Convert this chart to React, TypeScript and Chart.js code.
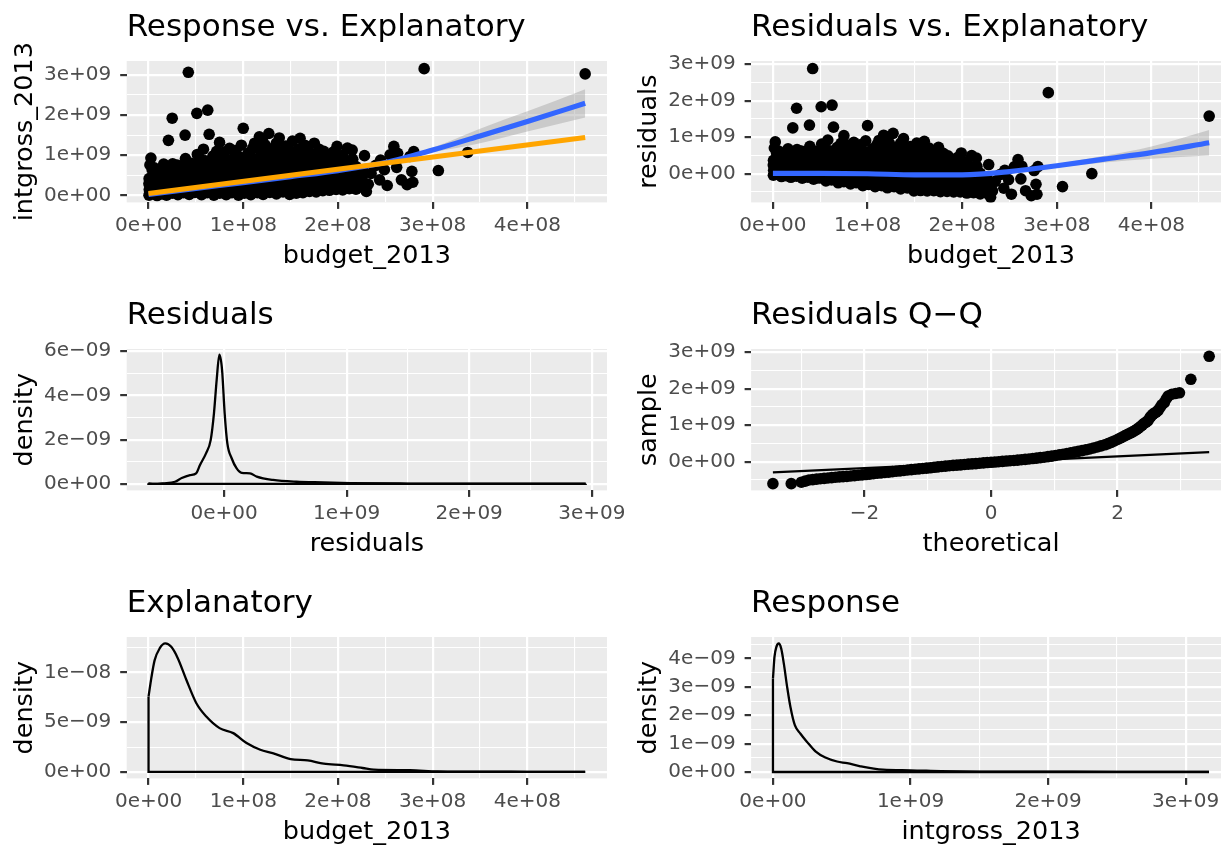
import React, { useEffect, useRef } from 'react';
import { Chart, registerables } from 'chart.js';

Chart.register(...registerables);

const FONT = "'DejaVu Sans', 'Liberation Sans', sans-serif";
const M = 1e6;
const NANO = 1e-9;

// ---------------- data (budget / gross in $ millions) ----------------
// budget_2013 vs intgross_2013: [budget $M, gross $M]
const movies: [number, number][] = [
  [0.5, 10], [0.8, 150], [0.4, 290], [0.6, 420],
  [4, 60], [3.5, 200], [4.2, 340], [4, 470], [3.8, 640],
  [9, 0], [8.6, 130], [9.2, 270], [9, 400], [8.8, 520], [9.1, 640],
  [14, 40], [13.5, 180], [14.3, 320], [14, 450], [14.2, 590],
  [19, 10], [19.4, 150], [18.7, 290], [19, 430], [19.2, 540], [18.9, 680],
  [25, 60], [24.6, 200], [25.3, 340], [25, 480], [24.8, 610], [25.1, 740],
  [31, 20], [31.4, 160], [30.7, 300], [31, 440], [31.2, 560], [30.9, 690],
  [37, 70], [36.6, 210], [37.4, 350], [37, 490], [36.8, 640], [37.1, 760],
  [43, 30], [43.3, 170], [42.8, 310], [43, 450], [43.2, 580], [42.9, 700],
  [49, 80], [48.7, 220], [49.3, 360], [49, 500], [48.8, 620], [49.1, 760],
  [56, 20], [56.3, 160], [55.7, 300], [56, 440], [56.2, 580], [55.8, 680],
  [62, 70], [62.4, 210], [61.7, 350], [62, 490], [62.2, 620], [61.9, 760],
  [69, 10], [68.6, 150], [69.3, 290], [69, 430], [68.8, 570], [69.2, 700], [69, 830],
  [75, 60], [75.4, 200], [74.7, 340], [75, 480], [75.2, 620], [74.9, 760],
  [82, 20], [81.6, 160], [82.3, 300], [82, 440], [81.8, 580], [82.2, 720], [82, 850],
  [88, 70], [88.4, 210], [87.7, 350], [88, 490], [88.2, 630], [87.8, 760], [88.1, 900],
  [95, 10], [94.6, 150], [95.3, 290], [95, 430], [94.8, 570], [95.2, 700], [95, 840],
  [101, 60], [101.4, 200], [100.7, 340], [101, 480], [101.2, 620], [100.8, 780], [101.1, 920],
  [108, 20], [107.6, 160], [108.3, 300], [108, 440], [107.8, 580], [108.2, 720], [108, 840], [107.9, 980],
  [115, 70], [115.4, 210], [114.7, 350], [115, 490], [115.2, 630], [114.8, 770], [115.1, 910],
  [121, 30], [120.6, 170], [121.3, 310], [121, 450], [120.8, 590], [121.2, 730], [121, 880], [120.9, 1010],
  [128, 80], [128.4, 220], [127.7, 360], [128, 500], [128.2, 640], [127.8, 780], [128.1, 920],
  [135, 40], [134.6, 180], [135.3, 320], [135, 460], [134.8, 600], [135.2, 740], [135, 900], [134.9, 1040],
  [142, 90], [142.4, 230], [141.7, 370], [142, 510], [142.2, 650], [141.8, 790], [142.1, 930],
  [149, 30], [148.6, 170], [149.3, 310], [149, 450], [148.8, 590], [149.2, 730], [149, 880], [148.9, 1020],
  [156, 60], [156.4, 200], [155.7, 340], [156, 480], [156.2, 620], [155.8, 760], [156, 920], [156.1, 1060],
  [163, 70], [162.6, 210], [163.3, 350], [163, 490], [162.8, 630], [163.2, 770], [163, 880], [162.9, 1010],
  [170, 100], [170.4, 240], [169.7, 380], [170, 520], [170.2, 660], [169.8, 800], [170.1, 940],
  [177, 90], [176.6, 230], [177.3, 370], [177, 510], [176.8, 650], [177.2, 790], [177, 900], [176.9, 1030],
  [184, 120], [184.4, 260], [183.7, 400], [184, 540], [184.2, 680], [183.8, 820], [184.1, 960],
  [191, 130], [190.6, 270], [191.3, 410], [191, 550], [190.8, 690], [191.2, 800], [191, 930],
  [198, 150], [198.4, 290], [197.7, 430], [198, 570], [198.2, 710], [197.8, 840], [198.1, 960],
  [205, 140], [204.6, 280], [205.3, 420], [205, 560], [204.8, 690], [205.1, 830],
  [212, 170], [212.4, 310], [211.7, 450], [212, 590], [212.2, 720], [211.9, 860],
  [219, 160], [218.6, 300], [219.3, 440], [219, 580], [219.1, 720],
  [226, 200], [226.4, 340], [225.7, 480], [226.1, 620],
  // sparser points above the dense core
  [2.5, 930], [1.5, 760], [6, 690], [12, 620], [16, 780], [21, 1370], [25, 1920], [25.5, 790],
  [30, 760], [38.6, 1500], [39, 920], [42, 3060], [45, 800], [51, 2040], [51.5, 1020], [60, 860],
  [62.5, 2120], [64, 1520], [75, 1320], [75.5, 1000], [85.5, 1170], [85, 880], [96, 960],
  [100, 1670], [105, 1050], [110, 1180], [117, 1460], [120, 1400], [125, 1150], [127, 1540],
  [130, 1000], [135, 1300], [140, 1080], [150, 1100], [160, 1420], [165, 1250], [170, 1050],
  [180, 1150], [190, 1000], [199, 1220], [200, 950], [215, 1130],
  [55, 900], [58, 1150], [68, 980], [72, 1100], [80, 1080], [92, 1120], [98, 1250], [112, 1300],
  [118, 1120], [123, 1260], [132, 1180], [138, 1430], [145, 1230], [152, 1350], [158, 1150],
  [168, 1180], [175, 1300], [185, 1100], [195, 1080], [205, 1000], [210, 1180],
  // right-hand tail
  [215.6, 900], [220, 350], [228, 990], [230, 100], [232, 280], [235, 550], [240, 750],
  [244, 390], [245, 880], [249, 640], [252, 250], [255, 1010], [259, 1220], [262, 700],
  [263, 1050], [267, 390], [273, 270], [276, 970], [278, 600], [279, 330], [280, 1090],
  [291, 3150], [306, 620], [337, 1070], [461, 3020],
];

// linear model (orange line) end points
const lmBudgetM = [0, 461];
const lmGrossM = [50, 1440];

// loess smooth of intgross_2013 ~ budget_2013 (blue) with its band
const smoothBudgetM = [0, 50, 100, 150, 200, 250, 300, 350, 400, 461];
const smoothGrossM = [30, 180, 320, 470, 620, 820, 1130, 1480, 1840, 2290];
const smoothGrossLoM = [10, 165, 305, 455, 600, 790, 1070, 1300, 1590, 1940];
const smoothGrossHiM = [50, 195, 335, 485, 640, 850, 1190, 1660, 2090, 2640];

// loess smooth of residuals ~ budget_2013
const residSmoothM = [10, 10, 0, -30, -30, 60, 220, 400, 580, 850];
const residSmoothLoM = [-20, -10, -15, -45, -50, 35, 170, 310, 410, 500];
const residSmoothHiM = [40, 30, 15, -15, -10, 85, 270, 490, 750, 1200];

// density of residuals (x in $M, density in 1e-9)
const residDensXM = [-617, -570, -495, -400, -345, -277, -228, -196, -147, -109, -82, -60, -38, -16, 5, 27, 63, 103, 144, 212, 267, 400, 590, 810, 1030, 1500, 2000, 2500, 2950];
const residDensY = [0.03, 0.0, 0.03, 0.1, 0.27, 0.4, 0.48, 0.86, 1.38, 1.98, 3.2, 4.7, 5.83, 5.14, 3.2, 1.83, 1.15, 0.7, 0.5, 0.48, 0.33, 0.18, 0.1, 0.07, 0.04, 0.02, 0.015, 0.01, 0.01];

// residuals Q-Q (theoretical quantile, sample in $M)
const qqTheoretical = [
  -3.45, -3.16, -3.0, -2.94, -2.88, -2.82, -2.76, -2.7, -2.64, -2.58, -2.52, -2.46, -2.4, -2.34,
  -2.28, -2.22, -2.16, -2.1, -2.04, -1.98, -1.92, -1.86, -1.8, -1.74, -1.68, -1.62, -1.56, -1.5,
  -1.44, -1.38, -1.32, -1.26, -1.2, -1.14, -1.08, -1.02, -0.96, -0.9, -0.84, -0.78, -0.72, -0.66,
  -0.6, -0.54, -0.48, -0.42, -0.36, -0.3, -0.24, -0.18, -0.12, -0.06, 0, 0.06, 0.12, 0.18, 0.24,
  0.3, 0.36, 0.42, 0.48, 0.54, 0.6, 0.66, 0.72, 0.78, 0.84, 0.9, 0.96, 1.02, 1.08, 1.14, 1.2,
  1.26, 1.32, 1.38, 1.44, 1.5, 1.56, 1.62, 1.68, 1.74, 1.8, 1.85, 1.9, 1.95, 2.0, 2.04, 2.08,
  2.12, 2.16, 2.2, 2.24, 2.27, 2.3, 2.33, 2.36, 2.39, 2.42, 2.45, 2.48, 2.51, 2.53, 2.56, 2.58,
  2.61, 2.64, 2.67, 2.7, 2.74, 2.77, 2.8, 2.86, 2.92, 2.98, 3.16, 3.45,
];
const qqSampleM = [
  -600, -600, -560, -530, -500, -490, -475, -465, -455, -445, -435, -425, -415, -408,
  -400, -390, -380, -370, -360, -350, -340, -328, -315, -305, -295, -283, -270, -260,
  -250, -238, -225, -215, -205, -195, -185, -175, -165, -152, -140, -130, -120, -110,
  -100, -92, -85, -75, -65, -58, -50, -40, -30, -22, -15, -8, 0, 10, 20,
  28, 35, 45, 55, 65, 75, 88, 100, 112, 125, 140, 155, 172, 190, 207, 225,
  245, 265, 285, 305, 327, 350, 377, 405, 435, 465, 497, 530, 570, 610, 645, 680,
  715, 750, 785, 820, 850, 880, 920, 960, 1005, 1050, 1085, 1120, 1200, 1250, 1300, 1330,
  1360, 1400, 1480, 1560, 1620, 1720, 1800, 1850, 1870, 1890, 2260, 2890,
];
const qqLineTheoretical = [-3.45, 3.45];
const qqLineSampleM = [-290, 265];

// density of budget_2013 (x in $M, density in 1e-9)
const budgetDensXM = [0, 2.9, 6.4, 11.7, 17.7, 24, 31, 40, 50.5, 61, 75, 89.4, 103.5, 118, 131, 150, 168, 185, 206, 226, 238, 276, 305, 337, 400, 461];
const budgetDensY = [7.56, 9.4, 11.2, 12.4, 12.9, 12.56, 11.4, 9.23, 6.9, 5.56, 4.4, 3.9, 2.9, 2.23, 1.9, 1.3, 1.16, 0.83, 0.66, 0.4, 0.23, 0.18, 0.05, 0.03, 0.02, 0.02];

// density of intgross_2013 (x in $M, density in 1e-9)
const grossDensXM = [0, 11, 25, 42, 60, 79, 103, 127, 159, 200, 248, 309, 381, 466, 539, 635, 800, 1000, 1220, 1500, 2000, 2500, 3170];
const grossDensY = [3.29, 4.06, 4.41, 4.53, 4.35, 3.82, 3.0, 2.29, 1.65, 1.35, 1.06, 0.73, 0.51, 0.37, 0.31, 0.2, 0.08, 0.06, 0.03, 0.015, 0.01, 0.005, 0.005];

// tick values and labels
const budgetTicks = [0, 1e8, 2e8, 3e8, 4e8];
const budgetTickLabels = ['0e+00', '1e+08', '2e+08', '3e+08', '4e+08'];
const budgetMinor = [0.5e8, 1.5e8, 2.5e8, 3.5e8, 4.5e8];
const billionTicks = [0, 1e9, 2e9, 3e9];
const billionTickLabels = ['0e+00', '1e+09', '2e+09', '3e+09'];
const billionMinor = [-0.5e9, 0.5e9, 1.5e9, 2.5e9, 3.5e9];
const residDensTicks = [0, 2e-9, 4e-9, 6e-9];
const residDensTickLabels = ['0e+00', '2e\u221209', '4e\u221209', '6e\u221209'];
const residDensMinor = [1e-9, 3e-9, 5e-9];
const qqTicks = [-2, 0, 2];
const qqTickLabels = ['\u22122', '0', '2'];
const qqMinor = [-3, -1, 1, 3];
const budgetDensTicks = [0, 5e-9, 1e-8];
const budgetDensTickLabels = ['0e+00', '5e\u221209', '1e\u221208'];
const budgetDensMinor = [2.5e-9, 7.5e-9, 12.5e-9];
const grossDensTicks = [0, 1e-9, 2e-9, 3e-9, 4e-9];
const grossDensTickLabels = ['0e+00', '1e\u221209', '2e\u221209', '3e\u221209', '4e\u221209'];
const grossDensMinor = [0.5e-9, 1.5e-9, 2.5e-9, 3.5e-9, 4.5e-9];

// ---------------- helpers ----------------
const CELL_W = 624;
const CELL_H = 288;
const X_AXIS_H = 85.6;
const TICK_FONT = 20;
const AXIS_TITLE_FONT = 25.5;
const TITLE_FONT = 31;
const POINT_R = 5.8;

type Tick = { value: number; label: string; major: boolean };

function buildTicks(major: number[], labels: string[], minor: number[], min: number, max: number): Tick[] {
  const list: Tick[] = [];
  major.forEach((v, i) => { if (v >= min && v <= max) list.push({ value: v, label: labels[i], major: true }); });
  minor.forEach((v) => { if (v >= min && v <= max) list.push({ value: v, label: '', major: false }); });
  return list.sort((a, b) => a.value - b.value);
}

function pts(xs: number[], ys: number[], sx: number, sy: number) {
  return xs.map((x, i) => ({ x: x * sx, y: ys[i] * sy }));
}

function axis(isX: boolean, min: number, max: number, ticks: Tick[], title: string, yWidth: number) {
  return {
    type: 'linear',
    position: isX ? 'bottom' : 'left',
    min,
    max,
    bounds: 'data',
    afterBuildTicks: (s: any) => { s.ticks = ticks.map((t) => ({ value: t.value })); },
    afterFit: (s: any) => {
      if (isX) { s.height = X_AXIS_H; s.paddingLeft = 0; s.paddingRight = 0; }
      else { s.width = yWidth; s.paddingTop = 0; s.paddingBottom = 0; }
    },
    ticks: {
      autoSkip: false,
      maxRotation: 0,
      minRotation: 0,
      padding: isX ? 5 : 9,
      color: '#4D4D4D',
      font: { family: FONT, size: TICK_FONT },
      callback: (_v: any, i: number) => (ticks[i] ? ticks[i].label : ''),
    },
    grid: {
      color: '#FFFFFF',
      lineWidth: (c: any) => (ticks[c.index] && ticks[c.index].major ? 2.2 : 1.1),
      drawTicks: true,
      tickLength: 6.5,
      tickWidth: 2.2,
      tickColor: (c: any) => (ticks[c.index] && ticks[c.index].major ? '#333333' : 'rgba(0,0,0,0)'),
    },
    border: { display: false },
    title: {
      display: true,
      text: title,
      color: '#000000',
      font: { family: FONT, size: AXIS_TITLE_FONT },
      padding: isX ? { top: 0, bottom: 16.5 } : { top: 10.2, bottom: 0 },
    },
  };
}

const panelBg = {
  id: 'panelBg',
  beforeDraw(chart: any) {
    const { ctx, chartArea: a } = chart;
    ctx.save();
    ctx.fillStyle = '#EBEBEB';
    ctx.fillRect(a.left, a.top, a.right - a.left, a.bottom - a.top);
    ctx.restore();
  },
};

type PanelSpec = {
  title: string;
  xTitle: string;
  yTitle: string;
  xMin: number; xMax: number; yMin: number; yMax: number;
  xTicks: Tick[]; yTicks: Tick[];
  datasets: any[];
  yWidth: number;
};

function Panel({ spec, left, top }: { spec: PanelSpec; left: number; top: number }) {
  const ref = useRef<HTMLCanvasElement | null>(null);
  useEffect(() => {
    const chart = new Chart(ref.current as HTMLCanvasElement, {
      type: 'line',
      data: { datasets: spec.datasets },
      options: {
        animation: false,
        responsive: false,
        devicePixelRatio: 1,
        events: [],
        layout: { padding: { left: 0, top: 0, right: 17, bottom: 0 } },
        plugins: {
          legend: { display: false },
          tooltip: { enabled: false },
          title: {
            display: true,
            text: spec.title,
            align: 'start',
            fullSize: false,
            color: '#000000',
            font: { family: FONT, size: TITLE_FONT, weight: 'normal', lineHeight: 1.2 },
            padding: { top: 9, bottom: 14.8 },
          },
        },
        scales: {
          x: axis(true, spec.xMin, spec.xMax, spec.xTicks, spec.xTitle, 0),
          y: axis(false, spec.yMin, spec.yMax, spec.yTicks, spec.yTitle, spec.yWidth),
        },
      } as any,
      plugins: [panelBg],
    });
    return () => chart.destroy();
  }, []);
  return (
    <canvas
      ref={ref}
      width={CELL_W}
      height={CELL_H}
      style={{ position: 'absolute', left, top, width: CELL_W, height: CELL_H }}
    />
  );
}

const pointSet = (data: any[]) => ({
  data,
  showLine: false,
  pointRadius: POINT_R,
  pointHoverRadius: POINT_R,
  pointBackgroundColor: '#000000',
  pointBorderWidth: 0,
  borderWidth: 0,
});

const lineSet = (data: any[], color: string, width: number, smooth: boolean) => ({
  data,
  borderColor: color,
  borderWidth: width,
  pointRadius: 0,
  fill: false,
  cubicInterpolationMode: smooth ? 'monotone' : 'default',
  tension: 0,
});

const bandSet = (data: any[], fillTarget: any) => ({
  data,
  borderWidth: 0,
  borderColor: 'rgba(0,0,0,0)',
  pointRadius: 0,
  fill: fillTarget,
  backgroundColor: 'rgba(153,153,153,0.4)',
  cubicInterpolationMode: 'monotone',
});

// derived series: residuals of the linear model
const slope = (lmGrossM[1] - lmGrossM[0]) / (lmBudgetM[1] - lmBudgetM[0]);
const scatterPts = movies.map(([b, g]) => ({ x: b * M, y: g * M }));
const residualPts = movies.map(([b, g]) => ({ x: b * M, y: (g - (lmGrossM[0] + slope * (b - lmBudgetM[0]))) * M }));

// panel ranges
const X_BUD = [-0.2305e8, 4.8405e8];
const Y_GROSS = [-0.17e9, 3.34e9];
const Y_RESID = [-0.785e9, 3.09e9];
const X_RESID = [-0.794e9, 3.124e9];
const X_QQ = [-3.795, 3.795];
const Y_BDENS = [-0.645e-9, 13.55e-9];
const X_GROSS = [-0.159e9, 3.33e9];
const Y_GDENS = [-0.226e-9, 4.76e-9];
const Y_RDENS = [-0.29e-9, 6.09e-9];

const panels: { spec: PanelSpec; left: number; top: number }[] = [
  {
    left: 0, top: 0,
    spec: {
      title: 'Response vs. Explanatory', xTitle: 'budget_2013', yTitle: 'intgross_2013',
      xMin: X_BUD[0], xMax: X_BUD[1], yMin: Y_GROSS[0], yMax: Y_GROSS[1],
      xTicks: buildTicks(budgetTicks, budgetTickLabels, budgetMinor, X_BUD[0], X_BUD[1]),
      yTicks: buildTicks(billionTicks, billionTickLabels, billionMinor, Y_GROSS[0], Y_GROSS[1]),
      yWidth: 126.7,
      datasets: [
        lineSet(pts(lmBudgetM, lmGrossM, M, M), '#FFA500', 5.2, false),
        lineSet(pts(smoothBudgetM, smoothGrossM, M, M), '#3366FF', 5.2, true),
        bandSet(pts(smoothBudgetM, smoothGrossHiM, M, M), '+1'),
        bandSet(pts(smoothBudgetM, smoothGrossLoM, M, M), false),
        pointSet(scatterPts),
      ],
    },
  },
  {
    left: CELL_W, top: 0,
    spec: {
      title: 'Residuals vs. Explanatory', xTitle: 'budget_2013', yTitle: 'residuals',
      xMin: X_BUD[0], xMax: X_BUD[1], yMin: Y_RESID[0], yMax: Y_RESID[1],
      xTicks: buildTicks(budgetTicks, budgetTickLabels, budgetMinor, X_BUD[0], X_BUD[1]),
      yTicks: buildTicks(billionTicks, billionTickLabels, billionMinor, Y_RESID[0], Y_RESID[1]),
      yWidth: 127.1,
      datasets: [
        lineSet(pts(smoothBudgetM, residSmoothM, M, M), '#3366FF', 5.2, true),
        bandSet(pts(smoothBudgetM, residSmoothHiM, M, M), '+1'),
        bandSet(pts(smoothBudgetM, residSmoothLoM, M, M), false),
        pointSet(residualPts),
      ],
    },
  },
  {
    left: 0, top: CELL_H,
    spec: {
      title: 'Residuals', xTitle: 'residuals', yTitle: 'density',
      xMin: X_RESID[0], xMax: X_RESID[1], yMin: Y_RDENS[0], yMax: Y_RDENS[1],
      xTicks: buildTicks(billionTicks, billionTickLabels, billionMinor, X_RESID[0], X_RESID[1]),
      yTicks: buildTicks(residDensTicks, residDensTickLabels, residDensMinor, Y_RDENS[0], Y_RDENS[1]),
      yWidth: 126.7,
      datasets: [
        lineSet(pts(residDensXM, residDensY, M, NANO), '#000000', 2.3, true),
        lineSet([
          { x: residDensXM[0] * M, y: residDensY[0] * NANO },
          { x: residDensXM[0] * M, y: 0 },
          { x: residDensXM[residDensXM.length - 1] * M, y: 0 },
          { x: residDensXM[residDensXM.length - 1] * M, y: residDensY[residDensY.length - 1] * NANO },
        ], '#000000', 2.3, false),
      ],
    },
  },
  {
    left: CELL_W, top: CELL_H,
    spec: {
      title: 'Residuals Q\u2212Q', xTitle: 'theoretical', yTitle: 'sample',
      xMin: X_QQ[0], xMax: X_QQ[1], yMin: Y_RESID[0], yMax: Y_RESID[1],
      xTicks: buildTicks(qqTicks, qqTickLabels, qqMinor, X_QQ[0], X_QQ[1]),
      yTicks: buildTicks(billionTicks, billionTickLabels, billionMinor, Y_RESID[0], Y_RESID[1]),
      yWidth: 127.1,
      datasets: [
        lineSet(pts(qqLineTheoretical, qqLineSampleM, 1, M), '#000000', 2.3, false),
        pointSet(pts(qqTheoretical, qqSampleM, 1, M)),
      ],
    },
  },
  {
    left: 0, top: CELL_H * 2,
    spec: {
      title: 'Explanatory', xTitle: 'budget_2013', yTitle: 'density',
      xMin: X_BUD[0], xMax: X_BUD[1], yMin: Y_BDENS[0], yMax: Y_BDENS[1],
      xTicks: buildTicks(budgetTicks, budgetTickLabels, budgetMinor, X_BUD[0], X_BUD[1]),
      yTicks: buildTicks(budgetDensTicks, budgetDensTickLabels, budgetDensMinor, Y_BDENS[0], Y_BDENS[1]),
      yWidth: 126.7,
      datasets: [
        lineSet(pts(budgetDensXM, budgetDensY, M, NANO), '#000000', 2.3, true),
        lineSet([
          { x: budgetDensXM[0] * M, y: budgetDensY[0] * NANO },
          { x: budgetDensXM[0] * M, y: 0 },
          { x: budgetDensXM[budgetDensXM.length - 1] * M, y: 0 },
        ], '#000000', 2.3, false),
      ],
    },
  },
  {
    left: CELL_W, top: CELL_H * 2,
    spec: {
      title: 'Response', xTitle: 'intgross_2013', yTitle: 'density',
      xMin: X_GROSS[0], xMax: X_GROSS[1], yMin: Y_GDENS[0], yMax: Y_GDENS[1],
      xTicks: buildTicks(billionTicks, billionTickLabels, billionMinor, X_GROSS[0], X_GROSS[1]),
      yTicks: buildTicks(grossDensTicks, grossDensTickLabels, grossDensMinor, Y_GDENS[0], Y_GDENS[1]),
      yWidth: 127.1,
      datasets: [
        lineSet(pts(grossDensXM, grossDensY, M, NANO), '#000000', 2.3, true),
        lineSet([
          { x: grossDensXM[0] * M, y: grossDensY[0] * NANO },
          { x: grossDensXM[0] * M, y: 0 },
          { x: grossDensXM[grossDensXM.length - 1] * M, y: 0 },
        ], '#000000', 2.3, false),
      ],
    },
  },
];

export default function App() {
  return (
    <div
      style={{
        position: 'fixed', left: 0, top: 0, width: 1221, height: 847,
        overflow: 'hidden', background: '#FFFFFF',
      }}
    >
      {panels.map((p, i) => (
        <Panel key={i} spec={p.spec} left={p.left} top={p.top} />
      ))}
    </div>
  );
}
